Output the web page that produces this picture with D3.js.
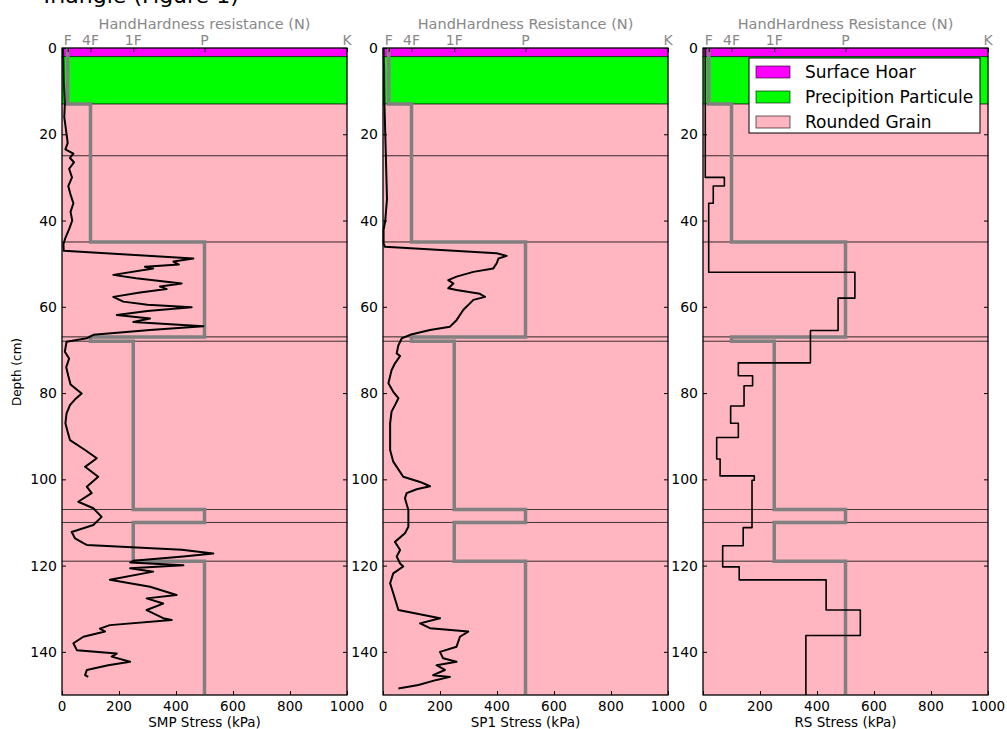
<!DOCTYPE html>
<html>
<head>
<meta charset="utf-8">
<script src="https://cdn.jsdelivr.net/npm/d3@7"></script>
<style>
  body { margin: 0; background: #fff; }
  svg { display: block; font-family: "DejaVu Sans", sans-serif; }
</style>
</head>
<body>
<svg id="chart" width="1007" height="729"></svg>
<script>
// snow layers (depth in cm)
var layerTop = [0, 2, 13, 25, 45, 67, 68, 107, 110, 119];
var layerBottom = [2, 13, 25, 45, 67, 68, 107, 110, 119, 150];
var layerGrain = ["SH", "PP", "RG", "RG", "RG", "RG", "RG", "RG", "RG", "RG"];
var layerHardness = ["F", "F", "4F", "4F", "P", "4F", "1F", "P", "1F", "P"];

var grainCodes = ["SH", "PP", "RG"];
var grainNames = ["Surface Hoar", "Precipition Particule", "Rounded Grain"];
var grainColors = ["#ff00ff", "#00ff00", "#ffb6c1"];

var hardnessLabels = ["F", "4F", "1F", "P", "K"];
var hardnessValues = [20, 100, 250, 500, 1000];

var depthTicks = [0, 20, 40, 60, 80, 100, 120, 140];
var stressTicks = [0, 200, 400, 600, 800, 1000];

// SMP trace
var smpDepth = [0, 3, 7, 10, 13, 16, 19, 22, 23.5, 24.5, 25.5, 26.5, 28, 30, 32, 34, 36, 38, 40, 42, 44, 45.5, 47,
  48.8, 49.5, 50.2, 50.7, 51.1, 52.6, 53.4, 54.6, 55.3, 55.9, 56.7, 57.7, 58.8, 59.5, 60.1, 61.0, 61.9, 62.7, 63.5,
  64.5, 65.4, 66.5, 67.3, 68.1, 70.4, 72, 74, 76, 78, 80.1, 81.5, 82.8, 84.7, 87, 89, 90.9, 93.2, 95.1, 97.1, 99.4,
  101.7, 103.2, 105.2, 106.7, 108.7, 110.6, 112.2, 113.7, 114.8, 115.2, 116.3, 117.2, 117.9, 118.9, 119.3, 119.9,
  120.6, 121.4, 123.3, 124.9, 126.8, 127.6, 128.8, 130.3, 132.2, 132.6, 133.8, 134.6, 135.3, 136.5, 138.0, 139.6,
  140.4, 141.1, 142.3, 143.1, 144.2, 145.4, 145.8];
var smpStress = [3, 5, 6, 8, 10, 8, 14, 20, 12, 40, 28, 42, 25, 35, 22, 30, 40, 30, 36, 25, 12, 5, 6,
  461, 391, 410, 291, 320, 180, 260, 420, 344, 367, 274, 180, 215, 300, 455, 300, 192, 309, 250,
  496, 309, 110, 87, 16, 10, 25, 15, 22, 30, 69, 45, 28, 16, 12, 20, 28, 81, 122, 81, 127,
  87, 104, 57, 110, 139, 110, 34, 46, 75, 87, 420, 531, 426, 250, 239, 426,
  239, 320, 168, 309, 402, 297, 355, 297, 355, 385, 168, 133, 151, 75, 40, 52,
  192, 174, 239, 162, 87, 81, 92];

// SP1 trace
var sp1Depth = [0, 5, 13, 20, 25, 30, 35, 40, 42.2, 45.3, 46.1, 47.6, 48.2, 48.8, 49.9, 51.1, 51.9, 53.0, 53.8,
  54.6, 55.7, 56.1, 57.0, 57.7, 58.4, 59.2, 60.7, 63.1, 64.6, 65.4, 66.5, 67.3, 68.9, 70.8, 71.4, 73.1, 74.7,
  77.7, 79.7, 81.2, 82.8, 84.3, 87.0, 90.1, 93.2, 95.9, 99.4, 100.6, 101.6, 102.3, 103.2, 104.4, 107.1, 111.0,
  112.5, 114.5, 116.4, 117.9, 119.5, 120.2, 121.8, 124.1, 126.4, 130.3, 132.2, 133.4, 134.5, 135.3, 136.5,
  138.8, 140.0, 141.5, 142.3, 143.1, 144.2, 145.4, 145.8, 146.5, 147.7, 148.5];
var sp1Stress = [2, 4, 5, 8, 10, 12, 14, 8, 2, 2, 7, 399, 434, 405, 399, 387, 317, 258, 229,
  247, 229, 258, 340, 358, 317, 305, 282, 258, 235, 165, 95, 66, 54, 48, 60, 42, 30,
  19, 36, 54, 42, 30, 25, 25, 25, 36, 71, 130, 165, 118, 83, 77, 89, 89,
  77, 42, 60, 48, 60, 71, 36, 25, 36, 54, 200, 130, 165, 299, 270,
  258, 200, 211, 258, 188, 217, 176, 235, 188, 124, 54];

// RS step profile: boundaries and value of each step
var rsDepth = [0, 30, 32, 36, 52, 58, 65.5, 73, 76, 78.3, 83, 87, 90.3, 95.3, 99.2, 100.2, 111.2, 115.4,
  120.3, 123.3, 130.3, 136.2, 150];
var rsStress = [8, 75, 36, 20, 533, 474, 377, 124, 174, 144, 97, 124, 48, 60, 180, 172, 141, 69, 127, 432, 552, 361];

var panelLeft = [62, 383, 703];
var panelWidth = 285;
var topTitles = ["HandHardness resistance (N)", "HandHardness Resistance (N)", "HandHardness Resistance (N)"];
var bottomTitles = ["SMP Stress (kPa)", "SP1 Stress (kPa)", "RS Stress (kPa)"];

var svg = d3.select("#chart");

var y = d3.scaleLinear().domain([0, 150]).range([48, 695]);
var grainColor = d3.scaleOrdinal().domain(grainCodes).range(grainColors);
var hardness = d3.scaleOrdinal().domain(hardnessLabels).range(hardnessValues);

var layers = layerTop.map(function (t, i) {
  return { top: t, bottom: layerBottom[i], grain: layerGrain[i], hard: hardness(layerHardness[i]) };
});

function pairs(ds, vs) {
  return ds.map(function (d, i) { return [d, vs[i]]; });
}

function steps(bounds, vals) {
  var pts = [];
  vals.forEach(function (v, i) {
    pts.push([bounds[i], v]);
    pts.push([bounds[i + 1], v]);
  });
  return pts;
}

var profiles = [pairs(smpDepth, smpStress), pairs(sp1Depth, sp1Stress), steps(rsDepth, rsStress)];

// title, mostly cut off by the top edge as in the original
svg.append("text")
  .attr("x", 40)
  .attr("y", 3)
  .style("font-size", "22px")
  .text("Triangle (Figure 1)");

panelLeft.forEach(function (left, p) {
  var x = d3.scaleLinear().domain([0, 1000]).range([left, left + panelWidth]);
  var g = svg.append("g");

  // layers
  g.selectAll("rect.layer")
    .data(layers)
    .enter().append("rect")
    .attr("class", "layer")
    .attr("x", x(0))
    .attr("y", function (d) { return y(d.top); })
    .attr("width", x(1000) - x(0))
    .attr("height", function (d) { return y(d.bottom) - y(d.top); })
    .attr("fill", function (d) { return grainColor(d.grain); })
    .attr("stroke", "#000")
    .attr("stroke-opacity", 0.6)
    .attr("stroke-width", 1);

  // hand hardness profile
  var hpts = [];
  layers.forEach(function (d) {
    hpts.push([d.top, d.hard]);
    hpts.push([d.bottom, d.hard]);
  });
  var line = d3.line()
    .x(function (d) { return x(d[1]); })
    .y(function (d) { return y(d[0]); });

  g.append("path")
    .attr("d", line(hpts))
    .attr("fill", "none")
    .attr("stroke", "#808080")
    .attr("stroke-width", 3.5);

  // measured profile
  g.append("path")
    .attr("d", line(profiles[p]))
    .attr("fill", "none")
    .attr("stroke", "#000")
    .attr("stroke-width", p == 2 ? 1.6 : 2)
    .attr("stroke-linejoin", "round");

  // frame
  g.append("rect")
    .attr("x", x(0))
    .attr("y", y(0))
    .attr("width", x(1000) - x(0))
    .attr("height", y(150) - y(0))
    .attr("fill", "none")
    .attr("stroke", "#000")
    .attr("stroke-width", 1);

  // axes (ticks pointing inside)
  var left_ax = g.append("g").attr("transform", "translate(" + x(0) + ",0)")
    .call(d3.axisRight(y).tickValues(depthTicks).tickSize(4).tickFormat(""));
  var right_ax = g.append("g").attr("transform", "translate(" + x(1000) + ",0)")
    .call(d3.axisLeft(y).tickValues(depthTicks).tickSize(4).tickFormat(""));
  var bottom_ax = g.append("g").attr("transform", "translate(0," + y(150) + ")")
    .call(d3.axisTop(x).tickValues(stressTicks).tickSize(4).tickFormat(""));
  var top_ax = g.append("g").attr("transform", "translate(0," + y(0) + ")")
    .call(d3.axisBottom(x).tickValues(hardnessValues).tickSize(4).tickFormat(""));
  [left_ax, right_ax, bottom_ax, top_ax].forEach(function (a) {
    a.select(".domain").remove();
    a.selectAll("line").attr("stroke", "#000");
  });

  // depth tick labels
  g.selectAll("text.ylab")
    .data(depthTicks)
    .enter().append("text")
    .attr("x", x(0) - 5)
    .attr("y", function (d) { return y(d); })
    .attr("dy", "0.36em")
    .attr("text-anchor", "end")
    .style("font-size", "14px")
    .text(function (d) { return d; });

  // stress tick labels
  g.selectAll("text.xlab")
    .data(stressTicks)
    .enter().append("text")
    .attr("x", function (d) { return x(d); })
    .attr("y", 711)
    .attr("text-anchor", "middle")
    .style("font-size", "13.5px")
    .text(function (d) { return d; });

  g.append("text")
    .attr("x", x(500))
    .attr("y", 727)
    .attr("text-anchor", "middle")
    .style("font-size", "13.5px")
    .text(bottomTitles[p]);

  // hand hardness tick labels on top
  g.selectAll("text.hlab")
    .data(hardnessLabels)
    .enter().append("text")
    .attr("x", function (d) { return x(hardness(d)); })
    .attr("y", 45)
    .attr("text-anchor", "middle")
    .attr("fill", "#888")
    .style("font-size", "14px")
    .text(function (d) { return d; });

  g.append("text")
    .attr("x", x(500))
    .attr("y", 29)
    .attr("text-anchor", "middle")
    .attr("fill", "#888")
    .style("font-size", "14.5px")
    .text(topTitles[p]);
});

svg.append("text")
  .attr("transform", "translate(21,372) rotate(-90)")
  .attr("text-anchor", "middle")
  .style("font-size", "12px")
  .text("Depth (cm)");

// legend in the last panel
var legend = svg.append("g").attr("transform", "translate(749,58)");
legend.append("rect")
  .attr("width", 231)
  .attr("height", 75)
  .attr("fill", "#fff")
  .attr("stroke", "#000");

var item = legend.selectAll("g.item")
  .data(grainNames)
  .enter().append("g")
  .attr("transform", function (d, i) { return "translate(7," + (8 + i * 25) + ")"; });
item.append("rect")
  .attr("width", 34)
  .attr("height", 12)
  .attr("fill", function (d, i) { return grainColors[i]; })
  .attr("stroke", "#000")
  .attr("stroke-opacity", 0.6);
item.append("text")
  .attr("x", 49)
  .attr("y", 6)
  .attr("dy", "0.35em")
  .style("font-size", "17px")
  .text(function (d) { return d; });
</script>
</body>
</html>
